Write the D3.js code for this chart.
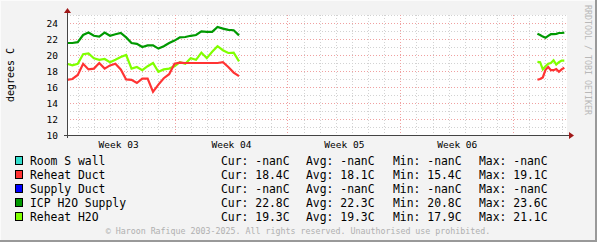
<!DOCTYPE html>
<html>
<head>
<meta charset="utf-8">
<script src="https://cdn.jsdelivr.net/npm/d3@7"></script>
<style>
  body { margin: 0; background: #f3f3f3; }
  svg { display: block; }
</style>
</head>
<body>
<script>
// time window of the graph (one month)
const startDate = new Date(2025, 0, 13, 8);
const endDate = new Date(2025, 1, 13, 8);

// first block of samples, hours after startDate
const seg1Hours = [0, 8, 16, 24, 32, 40, 48, 56, 64, 72, 80, 88, 96, 104, 112, 120, 128,
  136, 144, 152, 160, 168, 176, 184, 192, 200, 208, 216, 224, 232, 240, 248, 256];
// second block of samples (after the gap)
const seg2Hours = [700, 704, 708, 712, 716, 720, 724, 728, 732, 736, 740];

const reheatDuct1 = [16.9, 17.0, 17.5, 18.9, 18.2, 18.3, 19.0, 18.3, 18.7, 18.9, 18.2,
  16.95, 16.9, 16.5, 17.05, 17.05, 15.4, 16.3, 17.1, 17.6, 18.9, 19.05, 19.0, 19.0, 19.0,
  19.0, 19.0, 19.0, 19.0, 19.1, 18.5, 17.8, 17.35];
const reheatDuct2 = [16.9, 17.0, 17.2, 18.15, 18.5, 18.1, 18.1, 18.25, 17.9, 18.2, 18.4];

const icpSupply1 = [21.5, 21.5, 21.6, 22.5, 22.8, 22.4, 22.3, 22.8, 22.4, 22.6, 22.75,
  22.2, 21.5, 21.4, 21.0, 21.2, 21.2, 20.8, 21.1, 21.5, 21.8, 22.2, 22.25, 22.4, 22.5,
  22.95, 22.9, 22.9, 23.5, 23.3, 23.15, 23.1, 22.45];
const icpSupply2 = [22.65, 22.5, 22.3, 22.15, 22.4, 22.6, 22.6, 22.65, 22.75, 22.75, 22.8];

const reheatH2O1 = [18.9, 18.7, 18.9, 20.1, 20.2, 19.6, 19.4, 19.5, 19.1, 19.4, 19.75,
  20.0, 18.3, 18.5, 18.1, 18.6, 19.0, 17.9, 18.2, 18.3, 18.6, 19.1, 18.9, 19.6, 19.4,
  20.3, 19.6, 20.4, 21.1, 20.6, 20.25, 20.3, 19.2];
const reheatH2O2 = [19.15, 19.1, 18.2, 18.6, 18.9, 19.0, 19.35, 18.8, 19.1, 19.3, 19.3];

const yTicks = [10, 12, 14, 16, 18, 20, 22, 24];
const weekMids = [new Date(2025, 0, 16, 12), new Date(2025, 0, 23, 12),
  new Date(2025, 0, 30, 12), new Date(2025, 1, 6, 12)];
const weekLabels = ["Week 03", "Week 04", "Week 05", "Week 06"];
const weekStarts = [new Date(2025, 0, 20), new Date(2025, 0, 27),
  new Date(2025, 1, 3), new Date(2025, 1, 10)];

const legendNames = ["Room S wall", "Reheat Duct", "Supply Duct", "ICP H2O Supply", "Reheat H2O"];
const legendColors = ["#33ddcc", "#ff3333", "#0000ff", "#009900", "#80ff00"];
const curVals = ["-nan", "18.4", "-nan", "22.8", "19.3"];
const avgVals = ["-nan", "18.1", "-nan", "22.3", "19.3"];
const minVals = ["-nan", "15.4", "-nan", "20.8", "17.9"];
const maxVals = ["-nan", "19.1", "-nan", "23.6", "21.1"];

const width = 597;
const height = 242;
const plotL = 67, plotR = 567, plotT = 15, plotB = 135;
const mono = "'DejaVu Sans Mono', monospace";

const svg = d3.select("body").append("svg")
  .attr("width", width)
  .attr("height", height);

// background + frame
svg.append("rect").attr("width", width).attr("height", height).attr("fill", "#f3f3f3");
svg.append("rect").attr("x", 0).attr("y", 0).attr("width", width).attr("height", 1).attr("fill", "#fbfbfb");
svg.append("rect").attr("x", 0).attr("y", 0).attr("width", 1).attr("height", height).attr("fill", "#fbfbfb");
svg.append("rect").attr("x", width - 2).attr("y", 0).attr("width", 2).attr("height", height).attr("fill", "#999");
svg.append("rect").attr("x", 0).attr("y", height - 2).attr("width", width).attr("height", 2).attr("fill", "#999");

svg.append("rect")
  .attr("x", plotL).attr("y", plotT)
  .attr("width", plotR - plotL).attr("height", plotB - plotT)
  .attr("fill", "#fff");

const x = d3.scaleTime().domain([startDate, endDate]).range([plotL, plotR]);
const y = d3.scaleLinear().domain([10, 25]).range([plotB, plotT]);

const grid = svg.append("g").attr("shape-rendering", "crispEdges");

// minor grid
grid.selectAll(".hmin")
  .data(d3.range(11, 26, 2))
  .enter().append("line")
  .attr("x1", plotL).attr("x2", plotR)
  .attr("y1", (d) => Math.round(y(d)) + 0.5).attr("y2", (d) => Math.round(y(d)) + 0.5)
  .attr("stroke", "#d2d2d2").attr("stroke-dasharray", "1,2");

grid.selectAll(".vmin")
  .data(d3.timeDay.range(startDate, endDate).filter((d) => d.getDay() !== 1))
  .enter().append("line")
  .attr("x1", (d) => Math.round(x(d)) + 0.5).attr("x2", (d) => Math.round(x(d)) + 0.5)
  .attr("y1", plotT).attr("y2", plotB)
  .attr("stroke", "#d2d2d2").attr("stroke-dasharray", "1,2");

// major grid
grid.selectAll(".hmaj")
  .data(yTicks.filter((d) => d > 10))
  .enter().append("line")
  .attr("x1", plotL).attr("x2", plotR)
  .attr("y1", (d) => Math.round(y(d)) + 0.5).attr("y2", (d) => Math.round(y(d)) + 0.5)
  .attr("stroke", "#f0a0a0").attr("stroke-dasharray", "1,2");

grid.selectAll(".vmaj")
  .data(weekStarts)
  .enter().append("line")
  .attr("x1", (d) => Math.round(x(d)) + 0.5).attr("x2", (d) => Math.round(x(d)) + 0.5)
  .attr("y1", plotT).attr("y2", plotB)
  .attr("stroke", "#f0a0a0").attr("stroke-dasharray", "1,2");

// data lines
const line = d3.line()
  .x((d) => x(d3.timeHour.offset(startDate, d[0])))
  .y((d) => y(d[1]));

const series = [
  { color: "#009900", parts: [[seg1Hours, icpSupply1], [seg2Hours, icpSupply2]] },
  { color: "#80ff00", parts: [[seg1Hours, reheatH2O1], [seg2Hours, reheatH2O2]] },
  { color: "#ff3333", parts: [[seg1Hours, reheatDuct1], [seg2Hours, reheatDuct2]] }
];

series.forEach((s) => {
  s.parts.forEach(([hours, vals]) => {
    svg.append("path")
      .attr("d", line(d3.zip(hours, vals)))
      .attr("fill", "none")
      .attr("stroke", s.color)
      .attr("stroke-width", 2.2)
      .attr("stroke-linejoin", "miter");
  });
});

// axes
const axisColor = "#444";
svg.append("line")
  .attr("x1", plotL + 0.5).attr("x2", plotL + 0.5)
  .attr("y1", plotB + 3).attr("y2", 11)
  .attr("stroke", axisColor);
svg.append("line")
  .attr("x1", plotL - 3).attr("x2", 569)
  .attr("y1", plotB + 0.5).attr("y2", plotB + 0.5)
  .attr("stroke", axisColor);

svg.append("path")
  .attr("d", `M${plotL - 3},13 L${plotL + 4},13 L${plotL + 0.5},8 Z`)
  .attr("fill", "#a01818");
svg.append("path")
  .attr("d", `M569,${plotB - 3} L569,${plotB + 4} L574,${plotB + 0.5} Z`)
  .attr("fill", "#a01818");

const yAxis = svg.append("g")
  .attr("transform", `translate(${plotL},0)`)
  .call(d3.axisLeft(y).tickValues(yTicks).tickSize(0).tickPadding(9));
yAxis.select(".domain").remove();
yAxis.selectAll("text")
  .attr("font-family", mono).attr("font-size", 9.5).attr("fill", "#000");

const xAxis = svg.append("g")
  .attr("transform", `translate(0,${plotB})`)
  .call(d3.axisBottom(x).tickValues(weekMids)
    .tickFormat((d, i) => weekLabels[i]).tickSize(0).tickPadding(6));
xAxis.select(".domain").remove();
xAxis.selectAll("text")
  .attr("font-family", mono).attr("font-size", 9.5).attr("fill", "#000");

svg.append("text")
  .attr("transform", `translate(14,${(plotT + plotB) / 2}) rotate(-90)`)
  .attr("text-anchor", "middle")
  .attr("font-family", mono).attr("font-size", 10)
  .text("degrees C");

// watermark
svg.append("text")
  .attr("transform", "translate(585,5) rotate(90)")
  .attr("font-family", mono).attr("font-size", 8.3)
  .attr("fill", "#b8b8b8")
  .text("RRDTOOL / TOBI OETIKER");

// legend
const legend = svg.append("g")
  .attr("font-family", mono).attr("font-size", 11.4)
  .attr("fill", "#000");

legendNames.forEach((name, i) => {
  const ly = 161 + i * 14;
  legend.append("rect")
    .attr("x", 15.5).attr("y", ly - 4.5)
    .attr("width", 7).attr("height", 8)
    .attr("fill", legendColors[i]).attr("stroke", "#000").attr("stroke-width", 1);
  const row = legend.append("text").attr("y", ly + 4).attr("xml:space", "preserve");
  row.append("tspan").attr("x", 30).text(name);
  row.append("tspan").attr("x", 221).text(`Cur: ${curVals[i]}C`);
  row.append("tspan").attr("x", 306).text(`Avg: ${avgVals[i]}C`);
  row.append("tspan").attr("x", 393).text(`Min: ${minVals[i]}C`);
  row.append("tspan").attr("x", 479).text(`Max: ${maxVals[i]}C`);
});

svg.append("text")
  .attr("x", 298).attr("y", 234)
  .attr("text-anchor", "middle")
  .attr("font-family", mono).attr("font-size", 8.3)
  .attr("fill", "#b0b0b0")
  .text("\u00a9 Haroon Rafique 2003-2025. All rights reserved. Unauthorised use prohibited.");
</script>
</body>
</html>
